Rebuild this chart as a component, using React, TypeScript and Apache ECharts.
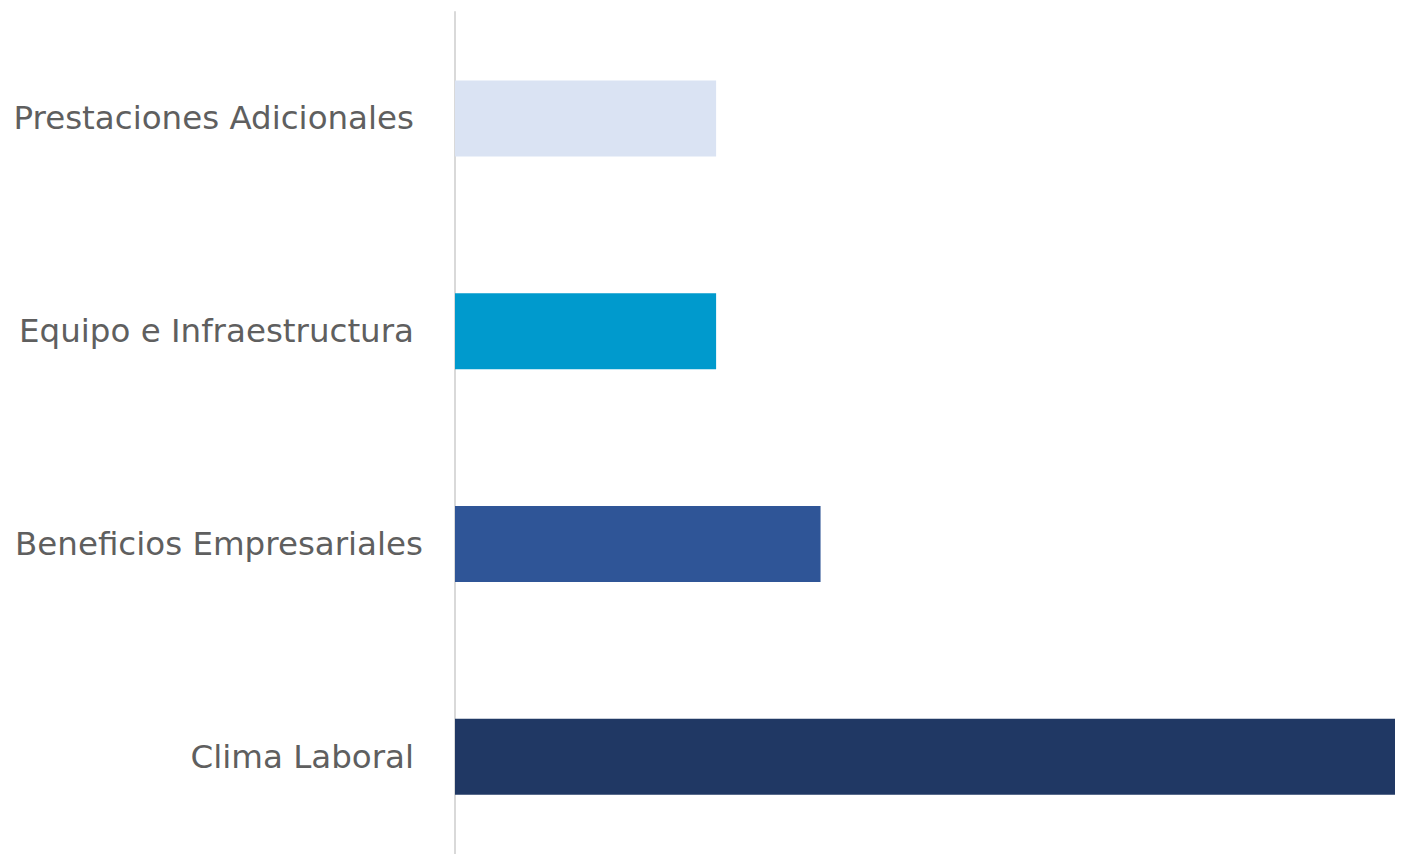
import React, { useEffect, useRef } from "react";
import * as echarts from "echarts";

const categories = ["Prestaciones Adicionales", "Equipo e Infraestructura", "Beneficios Empresariales", "Clima Laboral"];
const values = [5, 5, 7, 18];
const barColors = ["#DAE3F3", "#009ACD", "#2F5597", "#203864"];

export default function App() {
  const ref = useRef<HTMLDivElement>(null);
  useEffect(() => {
    const chart = echarts.init(ref.current!, undefined, { renderer: "svg" });
    const font = { fontSize: 32.5, color: "#5F5F5F", fontFamily: "DejaVu Sans" };
    chart.setOption({
      animation: false,
      grid: { left: 455, right: 9, top: 12, bottom: 0 },
      xAxis: {
        type: "value",
        min: 0,
        max: 18,
        show: false,
      },
      yAxis: {
        type: "category",
        inverse: true,
        data: categories,
        axisLine: { show: true, lineStyle: { color: "#D9D9D9", width: 2 } },
        axisTick: { show: false },
        splitLine: { show: false },
        axisLabel: {
          margin: 32,
          ...font,
          formatter: (v: string) => (v === "Beneficios Empresariales" ? `{b|${v}}` : `{a|${v}}`),
          rich: {
            a: { ...font, padding: [0, 9, 0, 0] },
            b: { ...font },
          },
        },
      },
      series: [
        {
          type: "bar",
          barWidth: 76,
          data: values.map((v, i) => ({ value: v, itemStyle: { color: barColors[i] } })),
        },
      ],
    });
    return () => chart.dispose();
  }, []);
  return (
    <div style={{ position: "absolute", left: 0, top: 0, width: 1404, height: 854, overflow: "hidden" }}>
      <div ref={ref} style={{ position: "absolute", left: 0, top: 0, width: 1404, height: 863 }} />
    </div>
  );
}
